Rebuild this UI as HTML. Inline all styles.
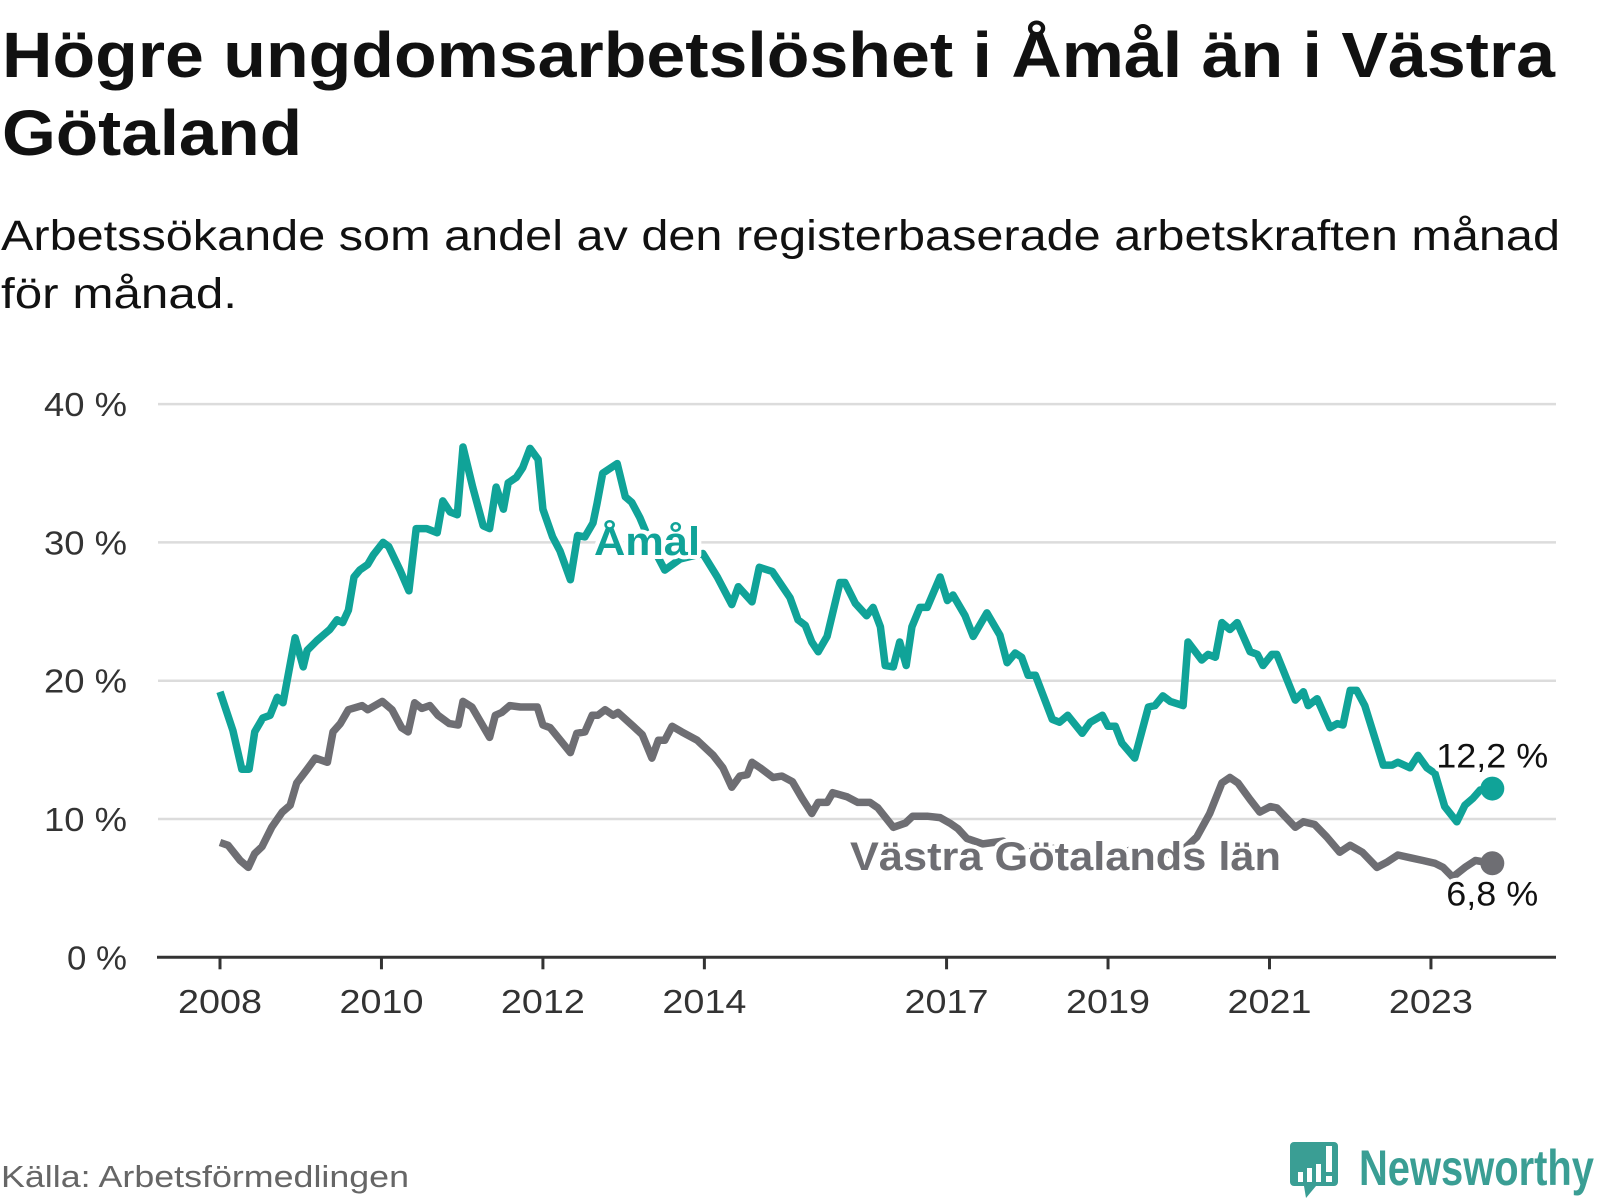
<!DOCTYPE html>
<html><head><meta charset="utf-8"><style>
html,body{margin:0;padding:0;background:#fff;}
svg{display:block;font-family:"Liberation Sans",sans-serif;}
</style></head><body>
<svg id="chart" width="1600" height="1200" viewBox="0 0 1600 1200" xmlns="http://www.w3.org/2000/svg">
<text x="2" y="77" font-size="64" font-weight="bold" fill="#111" textLength="1553" lengthAdjust="spacingAndGlyphs">Högre ungdomsarbetslöshet i Åmål än i Västra</text>
<text x="2" y="155" font-size="64" font-weight="bold" fill="#111" textLength="300" lengthAdjust="spacingAndGlyphs">Götaland</text>
<text x="1" y="250" font-size="43" fill="#111" textLength="1559" lengthAdjust="spacingAndGlyphs">Arbetssökande som andel av den registerbaserade arbetskraften månad</text>
<text x="1" y="308" font-size="43" fill="#111" textLength="236" lengthAdjust="spacingAndGlyphs">för månad.</text>
<g id="grid"></g>
<g id="yaxis"></g>
<g id="xaxis"></g>
<g id="series"></g>
<g id="labels"></g>
<text x="1" y="1187" font-size="31" fill="#666" textLength="408" lengthAdjust="spacingAndGlyphs">Källa: Arbetsförmedlingen</text>
<g>
<path d="M1294 1142 h40 a4 4 0 0 1 4 4 v36 a4 4 0 0 1 -4 4 h-18 l-10 12 l-2 -12 h-10 a4 4 0 0 1 -4 -4 v-36 a4 4 0 0 1 4 -4z" fill="#3a9e94"/>
<rect x="1298" y="1172" width="5" height="10" fill="#fff"/><rect x="1307" y="1168" width="5" height="14" fill="#fff"/><rect x="1316" y="1164" width="5" height="18" fill="#fff"/><rect x="1326" y="1146" width="6" height="26" fill="#fff"/><rect x="1326" y="1176" width="6" height="6" fill="#fff"/>
<text x="1359" y="1185" font-size="50" font-weight="bold" fill="#3a9e94" textLength="235" lengthAdjust="spacingAndGlyphs">Newsworthy</text>
</g>
</svg>
<script>
const yTicks = [0, 10, 20, 30, 40];
const yTickLabels = ["0 %", "10 %", "20 %", "30 %", "40 %"];
const xTicks = [2008, 2010, 2012, 2014, 2017, 2019, 2021, 2023];
const xTickLabels = ["2008", "2010", "2012", "2014", "2017", "2019", "2021", "2023"];
const amalDates = [2008.00,2008.16,2008.27,2008.36,2008.43,2008.53,2008.62,2008.71,2008.78,2008.93,2009.03,2009.08,2009.20,2009.30,2009.36,2009.45,2009.52,2009.59,2009.66,2009.73,2009.83,2009.90,2010.02,2010.09,2010.23,2010.34,2010.43,2010.56,2010.69,2010.76,2010.85,2010.94,2011.01,2011.13,2011.26,2011.34,2011.42,2011.51,2011.57,2011.67,2011.75,2011.84,2011.94,2012.00,2012.12,2012.21,2012.34,2012.43,2012.52,2012.62,2012.67,2012.74,2012.92,2013.02,2013.10,2013.20,2013.33,2013.51,2013.70,2013.98,2014.16,2014.34,2014.42,2014.59,2014.68,2014.84,2015.06,2015.16,2015.25,2015.33,2015.41,2015.52,2015.68,2015.74,2015.87,2016.01,2016.09,2016.18,2016.24,2016.34,2016.42,2016.50,2016.57,2016.67,2016.76,2016.92,2017.01,2017.08,2017.23,2017.33,2017.50,2017.66,2017.75,2017.85,2017.93,2018.01,2018.10,2018.31,2018.40,2018.50,2018.68,2018.78,2018.93,2019.00,2019.09,2019.17,2019.33,2019.50,2019.58,2019.68,2019.77,2019.93,2019.99,2020.16,2020.24,2020.33,2020.41,2020.51,2020.60,2020.76,2020.85,2020.92,2021.03,2021.09,2021.32,2021.42,2021.48,2021.59,2021.75,2021.84,2021.91,2022.00,2022.08,2022.18,2022.41,2022.52,2022.59,2022.74,2022.84,2022.95,2023.05,2023.17,2023.32,2023.42,2023.52,2023.61,2023.76];
const amalValues = [19.2,16.4,13.6,13.6,16.3,17.3,17.5,18.8,18.4,23.1,21.0,22.2,22.9,23.4,23.7,24.4,24.2,25.1,27.5,28.0,28.4,29.1,30.0,29.7,28.0,26.5,31.0,31.0,30.7,33.0,32.2,32.0,36.9,34.0,31.2,31.0,34.0,32.4,34.3,34.7,35.4,36.8,36.0,32.4,30.4,29.4,27.3,30.5,30.4,31.4,32.8,35.0,35.7,33.3,32.9,31.8,30.0,28.0,28.8,29.2,27.5,25.5,26.8,25.7,28.2,27.9,26.0,24.4,24.0,22.8,22.1,23.2,27.1,27.1,25.6,24.7,25.3,23.9,21.1,21.0,22.8,21.1,23.9,25.3,25.3,27.5,25.8,26.2,24.7,23.2,24.9,23.3,21.3,22.0,21.7,20.4,20.4,17.2,17.0,17.5,16.2,17.0,17.5,16.7,16.7,15.5,14.4,18.1,18.2,18.9,18.5,18.2,22.8,21.5,21.9,21.7,24.2,23.7,24.2,22.1,21.9,21.1,21.9,21.9,18.6,19.2,18.2,18.7,16.6,16.9,16.8,19.3,19.3,18.2,13.9,13.9,14.1,13.7,14.6,13.7,13.3,10.9,9.8,11.0,11.5,12.1,12.2];
const vgDates = [2008.00,2008.10,2008.25,2008.35,2008.43,2008.52,2008.64,2008.77,2008.87,2008.95,2009.08,2009.18,2009.33,2009.40,2009.49,2009.59,2009.76,2009.83,2010.01,2010.13,2010.25,2010.33,2010.41,2010.50,2010.60,2010.70,2010.84,2010.95,2011.01,2011.12,2011.34,2011.41,2011.49,2011.59,2011.72,2011.93,2012.00,2012.09,2012.34,2012.42,2012.52,2012.61,2012.68,2012.77,2012.87,2012.93,2013.12,2013.23,2013.35,2013.43,2013.51,2013.60,2013.72,2013.91,2014.11,2014.23,2014.34,2014.44,2014.53,2014.59,2014.69,2014.85,2014.96,2015.09,2015.21,2015.33,2015.41,2015.52,2015.59,2015.77,2015.90,2016.05,2016.15,2016.34,2016.49,2016.58,2016.76,2016.92,2017.04,2017.14,2017.25,2017.45,2017.70,2018.00,2018.30,2018.60,2019.00,2019.30,2019.60,2019.90,2020.10,2020.26,2020.41,2020.51,2020.61,2020.76,2020.88,2021.01,2021.09,2021.32,2021.42,2021.56,2021.71,2021.87,2022.00,2022.15,2022.33,2022.46,2022.59,2022.74,2022.90,2023.05,2023.15,2023.27,2023.42,2023.55,2023.76];
const vgValues = [8.3,8.1,7.0,6.5,7.5,8.0,9.4,10.5,11.0,12.6,13.6,14.4,14.1,16.3,16.9,17.9,18.2,17.9,18.5,17.9,16.6,16.3,18.4,18.0,18.2,17.5,16.9,16.8,18.5,18.1,15.9,17.5,17.7,18.2,18.1,18.1,16.8,16.6,14.8,16.2,16.3,17.5,17.5,17.9,17.5,17.7,16.7,16.1,14.4,15.7,15.7,16.7,16.3,15.7,14.6,13.7,12.3,13.1,13.2,14.1,13.7,13.0,13.1,12.7,11.5,10.4,11.2,11.2,11.9,11.6,11.2,11.2,10.8,9.4,9.7,10.2,10.2,10.1,9.7,9.3,8.6,8.2,8.4,7.6,7.9,7.4,7.2,7.8,7.3,7.6,8.7,10.4,12.6,13.0,12.6,11.4,10.5,10.9,10.8,9.4,9.8,9.6,8.7,7.6,8.1,7.6,6.5,6.9,7.4,7.2,7.0,6.8,6.5,5.8,6.5,7.0,6.8];

const NS = "http://www.w3.org/2000/svg";
const X0 = 220, PXY = 80.73, Y0 = 957.3, PXP = 13.83;
function xs(t){ return X0 + (t - 2008) * PXY; }
function ys(v){ return Y0 - v * PXP; }
function mk(tag, attrs, parent){
  const e = document.createElementNS(NS, tag);
  for (const k in attrs) e.setAttribute(k, attrs[k]);
  parent.appendChild(e); return e;
}
const grid = document.getElementById('grid');
const yaxis = document.getElementById('yaxis');
const xaxis = document.getElementById('xaxis');
yTicks.forEach((v, i) => {
  if (v > 0) {
    const l = mk('line', {x1:158, x2:1556, y1:ys(v), y2:ys(v), stroke:'#dcdcdc', 'stroke-width':2.5}, grid);
    
    
  }
  const lbl = yTickLabels[i];
  const w = lbl.length > 3 ? 83 : 60;
  const t = mk('text', {x:127 - w, y:ys(v)+12, 'font-size':33, fill:'#333', textLength:w, lengthAdjust:'spacingAndGlyphs'}, yaxis);
  
  
  t.textContent = lbl;
});
const ax = mk('line', {x1:157, x2:1556, y1:Y0, y2:Y0, stroke:'#333', 'stroke-width':3}, xaxis);


xTicks.forEach((yr, i) => {
  const tk = mk('line', {x1:xs(yr), x2:xs(yr), y1:Y0, y2:Y0+12, stroke:'#333', 'stroke-width':3}, xaxis);
  
  
  const t = mk('text', {x:xs(yr) - 42, y:1013, 'font-size':33, fill:'#333', textLength:84, lengthAdjust:'spacingAndGlyphs'}, xaxis);
  
  
  t.textContent = xTickLabels[i];
});
const series = document.getElementById('series');
const labels = document.getElementById('labels');
function drawLine(dates, vals, color, name){
  const d = dates.map((t, i) => (i ? 'L' : 'M') + xs(t).toFixed(1) + ' ' + ys(vals[i]).toFixed(1)).join(' ');
  const p = mk('path', {d:d, fill:'none', stroke:color, 'stroke-width':7.5, 'stroke-linejoin':'round'}, series);
  
  
  const n = dates.length - 1;
  const c = mk('circle', {cx:xs(dates[n]), cy:ys(vals[n]), r:12, fill:color}, series);
  
  
}
drawLine(vgDates, vgValues, '#6e6e73', 'vastra-gotaland');
drawLine(amalDates, amalValues, '#10a398', 'amal');
function label(txt, x, y, size, color, bold, name, w){
  const a = {x:x, y:y, 'font-size':size, fill:color, 'font-weight':bold?'bold':'normal', stroke:'#fff', 'stroke-width':8, 'paint-order':'stroke', 'stroke-linejoin':'round'};
  if (w) { a.textLength = w; a.lengthAdjust = 'spacingAndGlyphs'; }
  const t = mk('text', a, labels);
  
  
  t.textContent = txt;
}
label('Åmål', 594, 555, 40, '#10a398', true, 'amal-series-label', 106);
label('Västra Götalands län', 850, 870, 40, '#6e6e73', true, 'vastra-gotaland-series-label', 431);
const nA = amalValues.length - 1, nV = vgValues.length - 1;
label(amalValues[nA].toFixed(1).replace('.', ',') + ' %', xs(amalDates[nA]) - 56, ys(amalValues[nA]) - 21, 34, '#111', false, 'amal-end-value', 112);
label(vgValues[nV].toFixed(1).replace('.', ',') + ' %', xs(vgDates[nV]) - 46, ys(vgValues[nV]) + 42, 34, '#111', false, 'vastra-gotaland-end-value', 92);
</script>
</body></html>
